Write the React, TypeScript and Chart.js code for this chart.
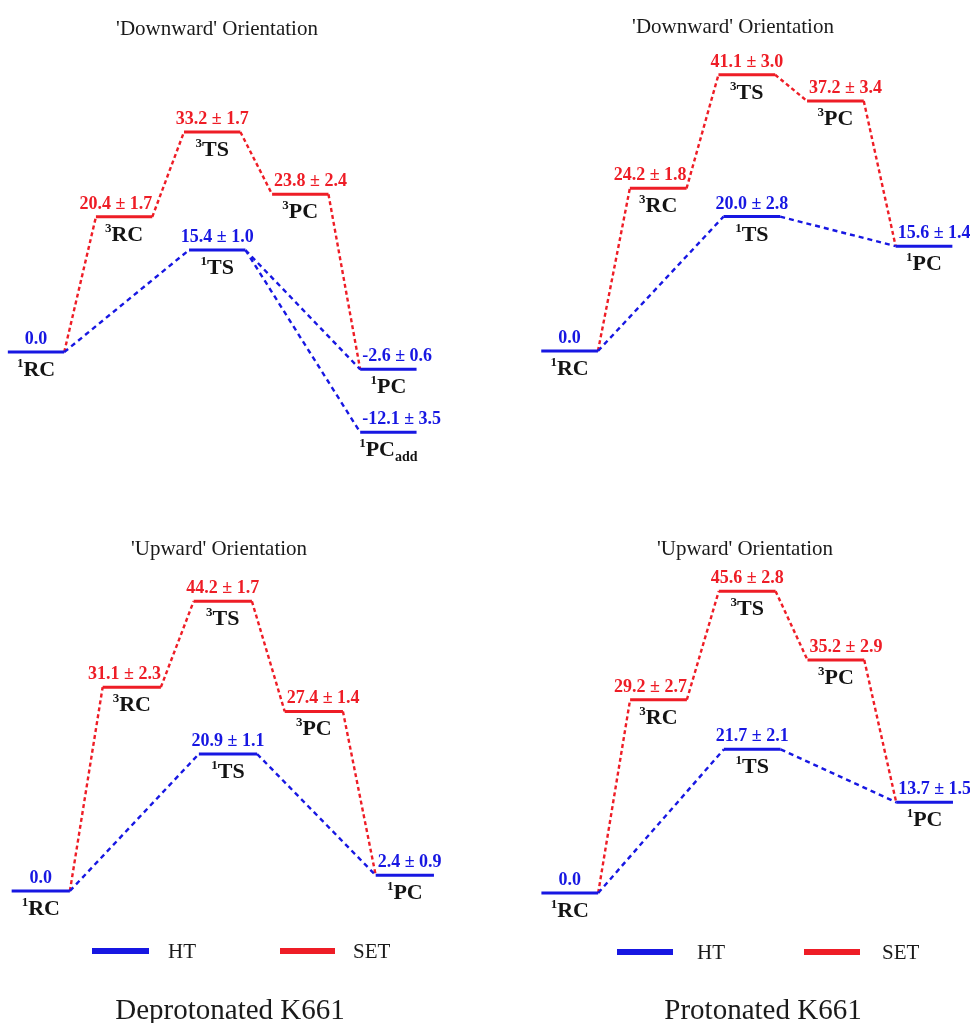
import { useEffect, useRef } from 'react';
import { Chart, registerables } from 'chart.js';

Chart.register(...registerables);

const BLUE = '#1717e2';
const RED = '#ee1d26';

// Reaction-coordinate stage of each level: 0 = 1RC, 1 = 3RC, 2 = TS, 3 = 3PC, 4 = PC
const htStageIndex = [0, 2, 4, 4];
const setStageIndex = [1, 2, 3];
const htStateNames = [
  ['1', 'RC', ''],
  ['1', 'TS', ''],
  ['1', 'PC', ''],
  ['1', 'PC', 'add'],
];
const setStateNames = [
  ['3', 'RC', ''],
  ['3', 'TS', ''],
  ['3', 'PC', ''],
];

const panelTitles = ["'Downward' Orientation", "'Downward' Orientation", "'Upward' Orientation", "'Upward' Orientation"];
const captions = ['Deprotonated K661', 'Protonated K661'];
const legendLabels = ['HT', 'SET'];

// Deprotonated K661, 'Downward'
const depDownHT = [0.0, 15.4, -2.6, -12.1];
const depDownHTErr = [0, 1.0, 0.6, 3.5];
const depDownSET = [20.4, 33.2, 23.8];
const depDownSETErr = [1.7, 1.7, 2.4];

// Protonated K661, 'Downward'
const proDownHT = [0.0, 20.0, 15.6];
const proDownHTErr = [0, 2.8, 1.4];
const proDownSET = [24.2, 41.1, 37.2];
const proDownSETErr = [1.8, 3.0, 3.4];

// Deprotonated K661, 'Upward'
const depUpHT = [0.0, 20.9, 2.4];
const depUpHTErr = [0, 1.1, 0.9];
const depUpSET = [31.1, 44.2, 27.4];
const depUpSETErr = [2.3, 1.7, 1.4];

// Protonated K661, 'Upward'
const proUpHT = [0.0, 21.7, 13.7];
const proUpHTErr = [0, 2.1, 1.5];
const proUpSET = [29.2, 45.6, 35.2];
const proUpSETErr = [2.7, 2.8, 2.9];

const HALF = 0.32; // half width of a level, in stage units
const TS_SHIFT = 0.057; // singlet TS drawn slightly right of triplet TS

const SERIF = '"Liberation Serif", "Times New Roman", serif';
const valueAlign = ['center', 'right', 'center', 'left', 'left'];

type Panel = {
  ht: number[];
  htErr: number[];
  set: number[];
  setErr: number[];
  title: string;
  left: number;
  top: number;
  w: number;
  h: number;
  xMin: number;
  xMax: number;
  yMin: number;
  yMax: number;
  titleX: number;
  titleY: number;
  legend: null | { y: number; items: { x1: number; x2: number; tx: number; color: string; label: string }[] };
  caption: null | { text: string; x: number; y: number };
};

const panels: Panel[] = [
  {
    ht: depDownHT, htErr: depDownHTErr, set: depDownSET, setErr: depDownSETErr, title: panelTitles[0],
    left: 0, top: 0, w: 485, h: 500, xMin: -0.409, xMax: 5.097, yMin: -22.3, yMax: 53.1,
    titleX: 217, titleY: 35, legend: null, caption: null,
  },
  {
    ht: proDownHT, htErr: proDownHTErr, set: proDownSET, setErr: proDownSETErr, title: panelTitles[1],
    left: 485, top: 0, w: 485, h: 500, xMin: -0.955, xMax: 4.519, yMin: -22.17, yMax: 52.23,
    titleX: 248, titleY: 33, legend: null, caption: null,
  },
  {
    ht: depUpHT, htErr: depUpHTErr, set: depUpSET, setErr: depUpSETErr, title: panelTitles[2],
    left: 0, top: 500, w: 485, h: 523, xMin: -0.448, xMax: 4.881, yMin: -20.14, yMax: 59.65,
    titleX: 219, titleY: 55,
    legend: {
      y: 451,
      items: [
        { x1: 92, x2: 149, tx: 168, color: BLUE, label: legendLabels[0] },
        { x1: 280, x2: 335, tx: 353, color: RED, label: legendLabels[1] },
      ],
    },
    caption: { text: captions[0], x: 230, y: 519 },
  },
  {
    ht: proUpHT, htErr: proUpHTErr, set: proUpSET, setErr: proUpSETErr, title: panelTitles[3],
    left: 485, top: 500, w: 485, h: 523, xMin: -0.956, xMax: 4.512, yMin: -19.64, yMax: 59.37,
    titleX: 260, titleY: 55,
    legend: {
      y: 452,
      items: [
        { x1: 132, x2: 188, tx: 212, color: BLUE, label: legendLabels[0] },
        { x1: 319, x2: 375, tx: 397, color: RED, label: legendLabels[1] },
      ],
    },
    caption: { text: captions[1], x: 278, y: 519 },
  },
];

function htX(i: number) {
  const s = htStageIndex[i];
  return s === 2 ? s + TS_SHIFT : s;
}
function setX(i: number) {
  return setStageIndex[i];
}

function buildDatasets(p: Panel) {
  const gap = { x: 0, y: null as any };
  const htLevels: any[] = [];
  p.ht.forEach((v, i) => {
    const x = htX(i);
    htLevels.push({ x: x - HALF, y: v }, { x: x + HALF, y: v }, gap);
  });
  const setLevels: any[] = [];
  p.set.forEach((v, i) => {
    const x = setX(i);
    setLevels.push({ x: x - HALF, y: v }, { x: x + HALF, y: v }, gap);
  });
  // singlet path: 1RC -> 1TS -> 1PC (and 1PCadd)
  const htConn: any[] = [
    { x: htX(0) + HALF, y: p.ht[0] },
    { x: htX(1) - HALF, y: p.ht[1] },
    gap,
  ];
  for (let k = 2; k < p.ht.length; k++) {
    htConn.push({ x: htX(1) + HALF, y: p.ht[1] }, { x: htX(k) - HALF, y: p.ht[k] }, gap);
  }
  // triplet path: 1RC -> 3RC -> 3TS -> 3PC -> 1PC
  const setConn: any[] = [
    { x: htX(0) + HALF, y: p.ht[0] },
    { x: setX(0) - HALF, y: p.set[0] },
    gap,
  ];
  for (let k = 0; k < p.set.length - 1; k++) {
    setConn.push({ x: setX(k) + HALF, y: p.set[k] }, { x: setX(k + 1) - HALF, y: p.set[k + 1] }, gap);
  }
  setConn.push({ x: setX(p.set.length - 1) + HALF, y: p.set[p.set.length - 1] }, { x: htX(2) - HALF, y: p.ht[2] });

  const common = { pointRadius: 0, pointHoverRadius: 0, tension: 0, fill: false, spanGaps: false };
  return [
    { label: 'HT', data: htLevels, borderColor: BLUE, borderWidth: 3, ...common },
    { label: 'SET', data: setLevels, borderColor: RED, borderWidth: 3, ...common },
    { label: 'HT path', data: htConn, borderColor: BLUE, borderWidth: 2.4, borderDash: [5, 4], ...common },
    { label: 'SET path', data: setConn, borderColor: RED, borderWidth: 2.4, borderDash: [4, 3], ...common },
  ];
}

function valueText(v: number, e: number) {
  return e > 0 ? `${v.toFixed(1)} ± ${e.toFixed(1)}` : v.toFixed(1);
}

function drawState(ctx: CanvasRenderingContext2D, cx: number, y: number, names: string[]) {
  const [sup, main, sub] = names;
  const supFont = `bold 13px ${SERIF}`;
  const mainFont = `bold 22px ${SERIF}`;
  const subFont = `bold 14px ${SERIF}`;
  ctx.font = supFont;
  const ws = ctx.measureText(sup).width;
  ctx.font = mainFont;
  const wm = ctx.measureText(main).width;
  ctx.font = subFont;
  const wb = sub ? ctx.measureText(sub).width : 0;
  const x0 = cx - (ws + wm + wb) / 2;
  ctx.fillStyle = '#141414';
  ctx.textAlign = 'left';
  ctx.textBaseline = 'alphabetic';
  ctx.font = supFont;
  ctx.fillText(sup, x0, y - 9);
  ctx.font = mainFont;
  ctx.fillText(main, x0 + ws, y);
  if (sub) {
    ctx.font = subFont;
    ctx.fillText(sub, x0 + ws + wm, y + 5);
  }
}

function drawValue(ctx: CanvasRenderingContext2D, stage: number, xl: number, xr: number, y: number, text: string, color: string) {
  ctx.font = `bold 18px ${SERIF}`;
  ctx.fillStyle = color;
  ctx.textBaseline = 'alphabetic';
  const a = valueAlign[stage];
  if (a === 'center') {
    ctx.textAlign = 'center';
    ctx.fillText(text, (xl + xr) / 2, y);
  } else if (a === 'right') {
    ctx.textAlign = 'right';
    ctx.fillText(text, xr, y);
  } else {
    ctx.textAlign = 'left';
    ctx.fillText(text, xl + 2, y);
  }
}

function makeLabelPlugin(p: Panel) {
  return {
    id: 'energyLabels',
    afterDatasetsDraw(chart: any) {
      const ctx: CanvasRenderingContext2D = chart.ctx;
      const xs = chart.scales.x;
      const ys = chart.scales.y;
      ctx.save();
      // title
      ctx.font = `21px ${SERIF}`;
      ctx.fillStyle = '#1a1a1a';
      ctx.textAlign = 'center';
      ctx.textBaseline = 'alphabetic';
      ctx.fillText(p.title, p.titleX, p.titleY);

      p.ht.forEach((v, i) => {
        const xl = xs.getPixelForValue(htX(i) - HALF);
        const xr = xs.getPixelForValue(htX(i) + HALF);
        const y = ys.getPixelForValue(v);
        drawValue(ctx, htStageIndex[i], xl, xr, y - 8, valueText(v, p.htErr[i]), BLUE);
        drawState(ctx, (xl + xr) / 2, y + 24, htStateNames[i]);
      });
      p.set.forEach((v, i) => {
        const xl = xs.getPixelForValue(setX(i) - HALF);
        const xr = xs.getPixelForValue(setX(i) + HALF);
        const y = ys.getPixelForValue(v);
        drawValue(ctx, setStageIndex[i], xl, xr, y - 8, valueText(v, p.setErr[i]), RED);
        drawState(ctx, (xl + xr) / 2, y + 24, setStateNames[i]);
      });

      if (p.legend) {
        const lg = p.legend;
        lg.items.forEach((it) => {
          ctx.fillStyle = it.color;
          ctx.fillRect(it.x1, lg.y - 3, it.x2 - it.x1, 6);
          ctx.fillStyle = '#1a1a1a';
          ctx.font = `21px ${SERIF}`;
          ctx.textAlign = 'left';
          ctx.fillText(it.label, it.tx, lg.y + 7);
        });
      }
      if (p.caption) {
        ctx.fillStyle = '#1a1a1a';
        ctx.font = `29px ${SERIF}`;
        ctx.textAlign = 'center';
        ctx.fillText(p.caption.text, p.caption.x, p.caption.y);
      }
      ctx.restore();
    },
  };
}

function PanelChart({ p }: { p: Panel }) {
  const ref = useRef<HTMLCanvasElement | null>(null);
  useEffect(() => {
    if (!ref.current) return;
    const chart = new Chart(ref.current, {
      type: 'line',
      data: { datasets: buildDatasets(p) as any },
      options: {
        animation: false,
        responsive: false,
        devicePixelRatio: 1,
        parsing: true as any,
        layout: { padding: 0 },
        events: [],
        scales: {
          x: { type: 'linear', min: p.xMin, max: p.xMax, display: false },
          y: { type: 'linear', min: p.yMin, max: p.yMax, display: false },
        },
        plugins: {
          legend: { display: false },
          title: { display: false },
          tooltip: { enabled: false },
        },
      },
      plugins: [makeLabelPlugin(p) as any],
    });
    return () => chart.destroy();
  }, [p]);
  return (
    <canvas
      ref={ref}
      width={p.w}
      height={p.h}
      style={{ position: 'absolute', left: p.left, top: p.top, width: p.w, height: p.h }}
    />
  );
}

export default function App() {
  return (
    <div style={{ position: 'absolute', left: 0, top: 0, width: 970, height: 1023, background: '#fff', overflow: 'hidden' }}>
      {panels.map((p, i) => (
        <PanelChart key={i} p={p} />
      ))}
    </div>
  );
}
